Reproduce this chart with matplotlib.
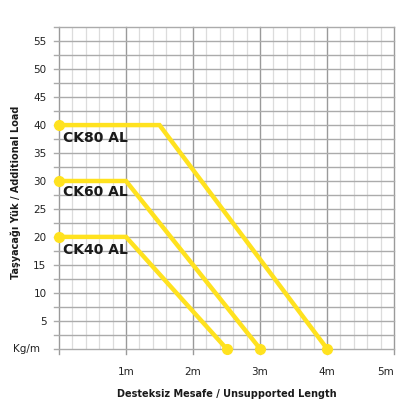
import matplotlib.pyplot as plt
import numpy as np

# load curves (x in m, y in kg/m)
ck40_x = [0, 1, 2.5]
ck40_y = [20, 20, 0]
ck60_x = [0, 1, 3]
ck60_y = [30, 30, 0]
ck80_x = [0, 1.5, 4]
ck80_y = [40, 40, 0]
series = [('CK80 AL', ck80_x, ck80_y, 37.7),
          ('CK60 AL', ck60_x, ck60_y, 28.0),
          ('CK40 AL', ck40_x, ck40_y, 17.7)]

y_ticks = [5, 10, 15, 20, 25, 30, 35, 40, 45, 50, 55]
x_ticks = [1, 2, 3, 4, 5]
x_labels = ['1m', '2m', '3m', '4m', '5m']

yellow = '#FFE21F'

if __name__ == '__main__':
    fig = plt.figure(figsize=(4.05, 4.09), dpi=100)
    ax = fig.add_axes([0.1457, 0.1474, 0.8272, 0.786])
    ax.set_xlim(0, 5)
    ax.set_ylim(0, 57.5)

    # grid
    for xv in np.arange(0.2, 5, 0.2):
        if abs(xv - round(xv)) > 1e-6:
            ax.axvline(xv, color='#dcdcdc', lw=0.9, zorder=1)
    for xv in range(0, 6):
        ax.plot([xv, xv], [-0.9, 57.5], color='#9a9a9a', lw=1.0,
                zorder=2, clip_on=False)
    for yv in np.arange(0, 57.6, 2.5):
        ax.plot([-0.07, 5], [yv, yv], color='#ababab', lw=1.0,
                zorder=2, clip_on=False)

    for sp in ax.spines.values():
        sp.set_visible(False)
    ax.tick_params(length=0)

    ax.set_yticks(y_ticks)
    ax.set_yticklabels([str(v) for v in y_ticks], fontsize=7.5, color='#222222')
    ax.tick_params(axis='y', pad=9)
    ax.set_xticks(x_ticks)
    ax.set_xticklabels(x_labels, fontsize=7.5, color='#222222')
    ax.tick_params(axis='x', pad=13)
    ax.get_xticklabels()[-1].set_ha('right')
    ax.get_xticklabels()[-1].set_x(5.12)

    ax.text(-0.28, 0, 'Kg/m', fontsize=7.5, ha='right', va='center',
            color='#222222')

    for name, xs, ys, ty in series:
        ax.plot(xs, ys, color=yellow, lw=3.2, zorder=4,
                solid_capstyle='round', solid_joinstyle='miter', clip_on=False)
        ax.plot([xs[0], xs[-1]], [ys[0], ys[-1]], 'o', color=yellow,
                ms=7, zorder=5, clip_on=False)
        ax.text(0.06, ty, name, fontsize=10, fontweight='bold',
                ha='left', va='center', color='#1a1a1a', zorder=6)

    ax.set_xlabel('Desteksiz Mesafe / Unsupported Length', fontsize=7,
                  fontweight='bold', labelpad=9, color='#1a1a1a')
    ax.set_ylabel('Taşyacağı Yük / Additional Load', fontsize=7,
                  fontweight='bold', color='#1a1a1a')
    ax.yaxis.set_label_coords(-0.113, 0.487)

    fig.savefig('out.png', dpi=100)
